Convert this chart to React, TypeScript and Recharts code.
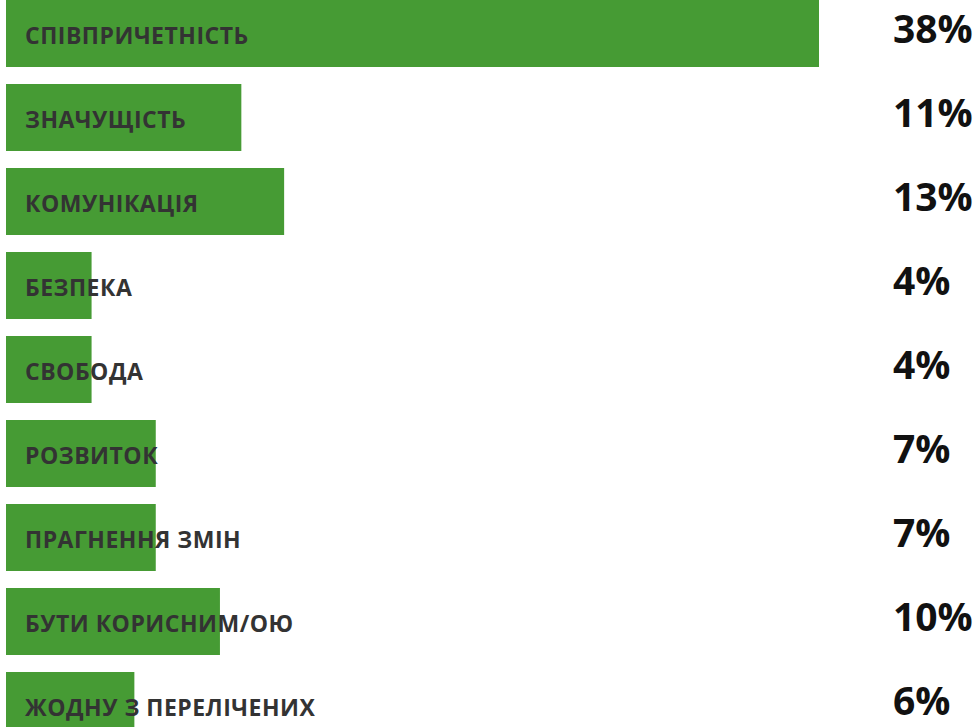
import { BarChart, Bar, XAxis, YAxis, LabelList } from "recharts";

const categories = [
  "СПІВПРИЧЕТНІСТЬ",
  "ЗНАЧУЩІСТЬ",
  "КОМУНІКАЦІЯ",
  "БЕЗПЕКА",
  "СВОБОДА",
  "РОЗВИТОК",
  "ПРАГНЕННЯ ЗМІН",
  "БУТИ КОРИСНИМ/ОЮ",
  "ЖОДНУ З ПЕРЕЛІЧЕНИХ",
];
const percents = [38, 11, 13, 4, 4, 7, 7, 10, 6];

const data = categories.map((name, i) => ({ name, value: percents[i] }));

const GREEN = "#469b34";
const VALUE_X = 893;

function ValueLabel(props: any) {
  const { y, height, value } = props;
  return (
    <text
      x={VALUE_X}
      y={y + height / 2 - 6.5}
      dominantBaseline="central"
      fontFamily="'Open Sans', sans-serif"
      fontWeight={700}
      fontSize={39}
      fill="#111"
    >
      {value}%
    </text>
  );
}

function NameLabel(props: any) {
  const { x, y, height, value } = props;
  return (
    <text
      x={x + 19}
      y={y + height / 2 + 1}
      dominantBaseline="central"
      fontFamily="'Open Sans', sans-serif"
      fontWeight={700}
      fontSize={23}
      letterSpacing={0.5}
      fill="#333"
    >
      {value}
    </text>
  );
}

export default function App() {
  return (
    <div style={{ position: "absolute", left: 0, top: -9.5, width: 980, height: 756 }}>
      <BarChart
        width={980}
        height={756}
        data={data}
        layout="vertical"
        margin={{ top: 0, right: 161, bottom: 0, left: 6 }}
      >
        <XAxis type="number" domain={[0, 38]} hide />
        <YAxis type="category" dataKey="name" hide />
        <Bar dataKey="value" fill={GREEN} barSize={67} isAnimationActive={false}>
          <LabelList dataKey="name" content={NameLabel} />
          <LabelList dataKey="value" content={ValueLabel} />
        </Bar>
      </BarChart>
    </div>
  );
}
